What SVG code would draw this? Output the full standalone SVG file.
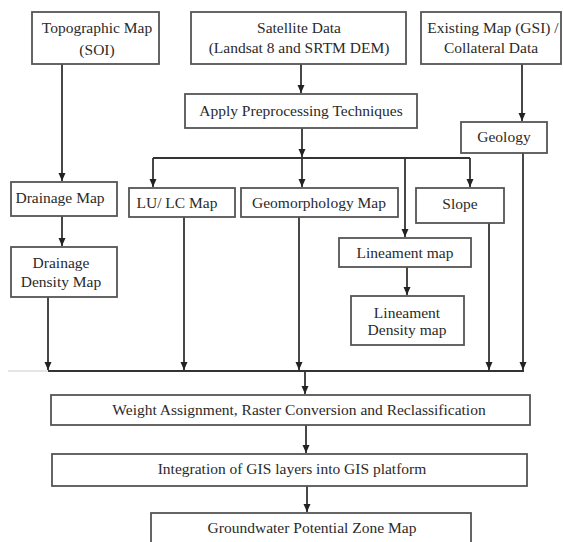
<svg xmlns="http://www.w3.org/2000/svg" width="563" height="542" viewBox="0 0 563 542">
<style>
.box{fill:#fff;stroke:#555;stroke-width:1.8}
.t{font-family:"Liberation Serif","Times New Roman",serif;font-size:15.5px;fill:#2a2a2a;text-anchor:middle}
.c{fill:none;stroke:#333;stroke-width:1.8}
</style>
<defs>
<marker id="a" markerUnits="userSpaceOnUse" markerWidth="9" markerHeight="8" refX="8" refY="4" orient="auto" viewBox="0 0 9 8">
<path d="M0,0.5 L8,4 L0,7.5 Z" fill="#222"/>
</marker>
</defs>
<rect width="563" height="542" fill="#fff"/>
<g id="connectors">
<line class="c" x1="62" y1="64" x2="62" y2="181" marker-end="url(#a)"/>
<line class="c" x1="301" y1="64" x2="301" y2="93" marker-end="url(#a)"/>
<line class="c" x1="522" y1="64" x2="522" y2="121" marker-end="url(#a)"/>
<line class="c" x1="302" y1="128" x2="302" y2="157" marker-end="url(#a)"/>
<line class="c" x1="153" y1="158" x2="470" y2="158"/>
<line class="c" x1="153" y1="158" x2="153" y2="187" marker-end="url(#a)"/>
<line class="c" x1="302" y1="158" x2="302" y2="187" marker-end="url(#a)"/>
<line class="c" x1="405" y1="158" x2="405" y2="237" marker-end="url(#a)"/>
<line class="c" x1="470" y1="158" x2="470" y2="187" marker-end="url(#a)"/>
<line class="c" x1="62" y1="216" x2="62" y2="246" marker-end="url(#a)"/>
<line class="c" x1="407" y1="267" x2="407" y2="295" marker-end="url(#a)"/>
<line class="c" x1="48" y1="297" x2="48" y2="370" marker-end="url(#a)"/>
<line class="c" x1="184" y1="217" x2="184" y2="370" marker-end="url(#a)"/>
<line class="c" x1="299" y1="217" x2="299" y2="370" marker-end="url(#a)"/>
<line class="c" x1="489" y1="223" x2="489" y2="370" marker-end="url(#a)"/>
<line class="c" x1="523" y1="153" x2="523" y2="370" marker-end="url(#a)"/>
<line x1="8" y1="371" x2="48" y2="371" stroke="#ddd" stroke-width="1.5"/>
<line class="c" x1="48" y1="371" x2="524" y2="371"/>
<line class="c" x1="305" y1="371" x2="305" y2="394" marker-end="url(#a)"/>
<line class="c" x1="306" y1="425" x2="306" y2="453" marker-end="url(#a)"/>
<line class="c" x1="307" y1="486" x2="307" y2="512" marker-end="url(#a)"/>
</g>
<g id="topographic"><rect class="box" x="32" y="12" width="127" height="52"/><text class="t" x="97" y="33">Topographic Map</text><text class="t" x="97" y="55">(SOI)</text></g>
<g id="satellite"><rect class="box" x="191" y="12" width="215" height="52"/><text class="t" x="299" y="33">Satellite Data</text><text class="t" x="299" y="53">(Landsat 8 and SRTM DEM)</text></g>
<g id="existing"><rect class="box" x="421" y="12" width="140" height="52"/><text class="t" x="493" y="33">Existing Map (GSI) /</text><text class="t" x="491" y="53">Collateral Data</text></g>
<g id="preprocessing"><rect class="box" x="185" y="94" width="232" height="34"/><text class="t" x="301" y="116">Apply Preprocessing Techniques</text></g>
<g id="geology"><rect class="box" x="461" y="122" width="86" height="31"/><text class="t" x="504" y="142">Geology</text></g>
<g id="drainage"><rect class="box" x="11" y="182" width="106" height="34"/><text class="t" x="60" y="203">Drainage Map</text></g>
<g id="drainage-density"><rect class="box" x="11" y="247" width="106" height="50"/><text class="t" x="61" y="268">Drainage</text><text class="t" x="61" y="287">Density Map</text></g>
<g id="lulc"><rect class="box" x="129" y="188" width="106" height="29"/><text class="t" x="177" y="208">LU/ LC Map</text></g>
<g id="geomorphology"><rect class="box" x="241" y="188" width="157" height="29"/><text class="t" x="319" y="208">Geomorphology Map</text></g>
<g id="slope"><rect class="box" x="416" y="188" width="88" height="35"/><text class="t" x="460" y="209">Slope</text></g>
<g id="lineament"><rect class="box" x="339" y="238" width="132" height="29"/><text class="t" x="405" y="258">Lineament map</text></g>
<g id="lineament-density"><rect class="box" x="351" y="296" width="113" height="49"/><text class="t" x="407" y="318">Lineament</text><text class="t" x="407" y="335">Density map</text></g>
<g id="weight"><rect class="box" x="51" y="395" width="479" height="30"/><text class="t" x="299" y="415">Weight Assignment, Raster Conversion and Reclassification</text></g>
<g id="integration"><rect class="box" x="52" y="454" width="475" height="32"/><text class="t" x="292" y="474">Integration of GIS layers into GIS platform</text></g>
<g id="groundwater"><rect class="box" x="151" y="513" width="320" height="34"/><text class="t" x="312" y="533">Groundwater Potential Zone Map</text></g>
</svg>
